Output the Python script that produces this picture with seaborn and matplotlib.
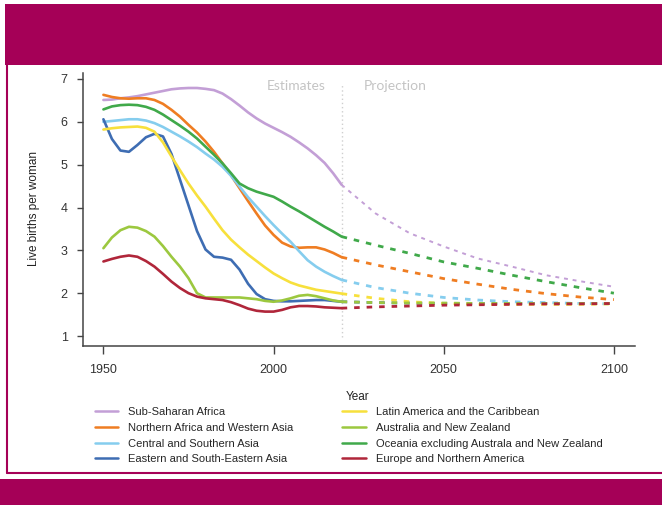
import numpy as np
import pandas as pd
import matplotlib
matplotlib.use("Agg")
import matplotlib.pyplot as plt
import seaborn as sns
from matplotlib.patches import Rectangle
from matplotlib.lines import Line2D

# years
years_est = [1950, 1952.5, 1955, 1957.5, 1960, 1962.5, 1965, 1967.5, 1970, 1972.5, 1975, 1977.5,
             1980, 1982.5, 1985, 1987.5, 1990, 1992.5, 1995, 1997.5, 2000, 2002.5, 2005, 2007.5,
             2010, 2012.5, 2015, 2017.5, 2020]
years_proj = [2020, 2030, 2040, 2050, 2060, 2070, 2080, 2090, 2100]

regions = ["Sub-Saharan Africa", "Northern Africa and Western Asia", "Central and Southern Asia",
           "Eastern and South-Eastern Asia", "Latin America and the Caribbean",
           "Australia and New Zealand", "Oceania excluding Australa and New Zealand",
           "Europe and Northern America"]
colors = ["#c39fd6", "#ef7d22", "#85cdee", "#3e6db3", "#f7e03c", "#9cc83f", "#40a94a", "#b0263a"]

# estimates (live births per woman)
ssa_est = [6.51, 6.52, 6.55, 6.57, 6.60, 6.64, 6.68, 6.72, 6.76, 6.78, 6.79, 6.79, 6.77, 6.74, 6.66,
           6.53, 6.38, 6.22, 6.08, 5.96, 5.86, 5.76, 5.65, 5.52, 5.38, 5.22, 5.04, 4.80, 4.53]
nawa_est = [6.63, 6.58, 6.55, 6.54, 6.55, 6.55, 6.51, 6.42, 6.28, 6.12, 5.93, 5.75, 5.54, 5.30, 5.03,
            4.75, 4.45, 4.15, 3.86, 3.58, 3.36, 3.18, 3.09, 3.06, 3.07, 3.07, 3.02, 2.94, 2.84]
csa_est = [6.00, 6.02, 6.04, 6.06, 6.06, 6.03, 5.97, 5.88, 5.77, 5.66, 5.54, 5.41, 5.26, 5.12, 4.95,
           4.74, 4.49, 4.24, 4.02, 3.80, 3.59, 3.39, 3.20, 2.98, 2.77, 2.62, 2.50, 2.40, 2.31]
esea_est = [6.06, 5.60, 5.33, 5.30, 5.46, 5.64, 5.72, 5.66, 5.25, 4.65, 4.05, 3.45, 3.02, 2.85, 2.83,
            2.78, 2.55, 2.22, 1.98, 1.86, 1.82, 1.81, 1.81, 1.82, 1.83, 1.84, 1.84, 1.82, 1.80]
lac_est = [5.82, 5.85, 5.87, 5.88, 5.89, 5.86, 5.77, 5.52, 5.19, 4.87, 4.56, 4.28, 4.02, 3.74, 3.47,
           3.25, 3.07, 2.90, 2.75, 2.60, 2.46, 2.35, 2.25, 2.18, 2.13, 2.08, 2.05, 2.02, 1.99]
anz_est = [3.05, 3.30, 3.47, 3.55, 3.53, 3.45, 3.32, 3.10, 2.85, 2.62, 2.35, 2.00, 1.90, 1.90, 1.90,
           1.90, 1.90, 1.88, 1.86, 1.82, 1.80, 1.83, 1.88, 1.94, 1.96, 1.93, 1.88, 1.83, 1.80]
oce_est = [6.29, 6.36, 6.39, 6.40, 6.39, 6.35, 6.28, 6.17, 6.04, 5.91, 5.77, 5.61, 5.42, 5.23, 5.03,
           4.80, 4.56, 4.45, 4.37, 4.31, 4.25, 4.14, 4.02, 3.91, 3.79, 3.67, 3.55, 3.44, 3.32]
eur_est = [2.74, 2.80, 2.85, 2.88, 2.85, 2.75, 2.62, 2.45, 2.27, 2.12, 2.00, 1.92, 1.88, 1.86, 1.84,
           1.79, 1.72, 1.64, 1.59, 1.57, 1.57, 1.61, 1.67, 1.70, 1.70, 1.69, 1.67, 1.66, 1.65]

# projections
ssa_proj = [4.53, 3.86, 3.40, 3.09, 2.81, 2.62, 2.42, 2.28, 2.15]
nawa_proj = [2.84, 2.66, 2.50, 2.34, 2.21, 2.09, 1.99, 1.91, 1.85]
csa_proj = [2.31, 2.13, 2.00, 1.90, 1.84, 1.80, 1.78, 1.76, 1.75]
esea_proj = [1.80, 1.78, 1.77, 1.76, 1.76, 1.76, 1.76, 1.76, 1.76]
lac_proj = [1.99, 1.88, 1.80, 1.76, 1.74, 1.74, 1.74, 1.74, 1.75]
anz_proj = [1.80, 1.78, 1.77, 1.77, 1.76, 1.76, 1.76, 1.76, 1.76]
oce_proj = [3.32, 3.12, 2.93, 2.73, 2.58, 2.42, 2.27, 2.13, 2.00]
eur_proj = [1.65, 1.68, 1.70, 1.72, 1.73, 1.74, 1.75, 1.75, 1.76]

est_vals = [ssa_est, nawa_est, csa_est, esea_est, lac_est, anz_est, oce_est, eur_est]
proj_vals = [ssa_proj, nawa_proj, csa_proj, esea_proj, lac_proj, anz_proj, oce_proj, eur_proj]

df_est = pd.DataFrame([(r, y, v) for r, vals in zip(regions, est_vals) for y, v in zip(years_est, vals)],
                      columns=["region", "year", "tfr"])
df_proj = pd.DataFrame([(r, y, v) for r, vals in zip(regions, proj_vals) for y, v in zip(years_proj, vals)],
                       columns=["region", "year", "tfr"])

sns.set_style("white")
plt.rcParams["font.family"] = ["Liberation Sans", "DejaVu Sans"]

W, H = 662, 505
fig = plt.figure(figsize=(W / 100, H / 100), dpi=100)
ax = fig.add_axes([83 / W, 1 - 346 / H, (635 - 83) / W, (346 - 73) / H])

# magenta frame
mag = "#a50057"
fig.add_artist(Rectangle((5 / W, 1 - 65 / H), 657 / W, 61 / H, transform=fig.transFigure,
                         color=mag, lw=0, zorder=0))
fig.add_artist(Rectangle((0, 0), 1, 26 / H, transform=fig.transFigure, color=mag, lw=0, zorder=0))
fig.add_artist(Line2D([7 / W, 7 / W], [1 - 65 / H, 1 - 473 / H], transform=fig.transFigure,
                      color=mag, lw=1.5))
fig.add_artist(Line2D([7 / W, 1], [1 - 473 / H, 1 - 473 / H], transform=fig.transFigure,
                      color=mag, lw=1.5))

ax.vlines(2020, 0.98, 6.9, colors="#cfcfcf", linestyles=(0, (1, 2)), lw=1)

for reg, col in zip(regions, colors):
    sns.lineplot(data=df_est[df_est["region"] == reg], x="year", y="tfr", color=col,
                 lw=1.9, ax=ax, solid_capstyle="round", solid_joinstyle="round")
    lw = 1.4 if reg == regions[0] else 2.0
    sns.lineplot(data=df_proj[df_proj["region"] == reg], x="year", y="tfr", color=col,
                 lw=lw, ax=ax, linestyle=(0, (2, 2.5)))

ax.text(2006.6, 6.84, "Estimates", color="#c4c4c4", fontsize=10, ha="center", va="center",
        family=["Lato", "DejaVu Sans"])
ax.text(2035.8, 6.84, "Projection", color="#c4c4c4", fontsize=10, ha="center", va="center",
        family=["Lato", "DejaVu Sans"])

ax.set_xlim(1944.0, 2106.2)
ax.set_ylim(0.767, 7.14)
ax.set_xticks([1950, 2000, 2050, 2100])
ax.set_yticks([1, 2, 3, 4, 5, 6, 7])
ax.tick_params(axis="x", length=6, width=1, color="#444444", pad=7, labelsize=9, labelcolor="#333333")
ax.tick_params(axis="y", length=4, width=1, color="#444444", pad=7, labelsize=9, labelcolor="#333333")
ax.tick_params(left=True, bottom=True)
sns.despine(ax=ax)
for s in ["left", "bottom"]:
    ax.spines[s].set_color("#444444")
    ax.spines[s].set_linewidth(1.1)

ax.set_xlabel("Year", fontsize=8.5, color="#222222")
ax.xaxis.set_label_coords((358 - 83) / 552, (346 - 391) / 273)
ax.set_ylabel("Live births per woman", fontsize=8.5, color="#222222")
ax.yaxis.set_label_coords((40 - 83) / 552, (346 - 208) / 273)

handles = [Line2D([], [], color=c, lw=1.8) for c in colors]
fig.legend(handles, regions, ncol=2, loc="upper left", bbox_to_anchor=(95 / W, 1 - 407 / H),
           bbox_transform=fig.transFigure, frameon=False, fontsize=8, borderpad=0,
           borderaxespad=0, handlelength=2.1, handletextpad=0.9, labelspacing=0.52,
           columnspacing=4.4)

fig.savefig("out.png", dpi=100)
